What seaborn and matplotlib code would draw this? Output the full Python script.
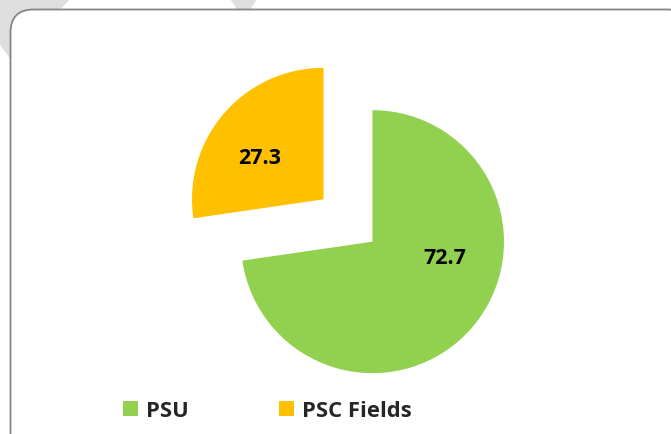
import matplotlib
matplotlib.use("Agg")
import matplotlib.pyplot as plt
import seaborn as sns
from matplotlib.patches import Patch, Polygon, FancyBboxPatch

# ---- data ----
categories = ["PSU", "PSC Fields"]
values = [72.7, 27.3]
colors = ["#92D050", "#FFC000"]

sns.set_theme(style="white")
FONT = ["Open Sans", "DejaVu Sans"]
plt.rcParams["font.family"] = FONT

W, H = 671, 435
fig = plt.figure(figsize=(W / 100, H / 100), dpi=100)
fig.patch.set_facecolor("white")

# background decoration axes (image pixel coordinates, y down)
bg = fig.add_axes([0, 0, 1, 1])
bg.set_xlim(0, W)
bg.set_ylim(H, 0)
bg.axis("off")
bg.add_patch(Polygon([(0, 0), (70, 0), (12, 62), (0, 46)], closed=True,
                     facecolor="#DFDFDF", edgecolor="none", zorder=0))
bg.add_patch(Polygon([(230, 0), (257, 0), (244, 20)], closed=True,
                     facecolor="#DFDFDF", edgecolor="none", zorder=0))
bg.add_patch(FancyBboxPatch((10.5, 10.5), 680, 450,
                            boxstyle="round,pad=0,rounding_size=23",
                            facecolor="white", edgecolor="#858585",
                            linewidth=1.3, zorder=1))

# pie axes (pixel coordinates, y up)
ax = fig.add_axes([0, 0, 1, 1])
ax.patch.set_alpha(0)

R = 131.5
EXPL = 0.246 * R
wedges, _ = ax.pie(values, colors=colors, startangle=90, counterclock=False,
                   explode=[EXPL, EXPL], center=(348, 213.5), radius=R,
                   wedgeprops=dict(linewidth=0), frame=True)
ax.set_xlim(0, W)
ax.set_ylim(0, H)
ax.axis("off")

# label placements relative to each wedge's center (in radius units)
label_offsets = [(0.553, -0.159), (-0.485, 0.273)]
for w, v, (ox, oy) in zip(wedges, values, label_offsets):
    cx, cy = w.center
    ax.text(cx + ox * w.r, cy + oy * w.r, f"{v:.1f}", ha="center", va="baseline",
            fontsize=15.5, fontweight="bold", color="black", family=FONT)

handles = [Patch(facecolor=c, edgecolor="none") for c in colors]
fig.legend(handles, categories, loc="center left",
           bbox_to_anchor=(123 / W, 1 - 412 / H), ncol=2, frameon=False,
           prop=dict(family=FONT, weight="bold", size=15.8),
           handlelength=0.68, handleheight=0.68, handletextpad=0.37,
           columnspacing=4.1, borderpad=0, borderaxespad=0)

fig.savefig("out.png", dpi=100, facecolor="white")
